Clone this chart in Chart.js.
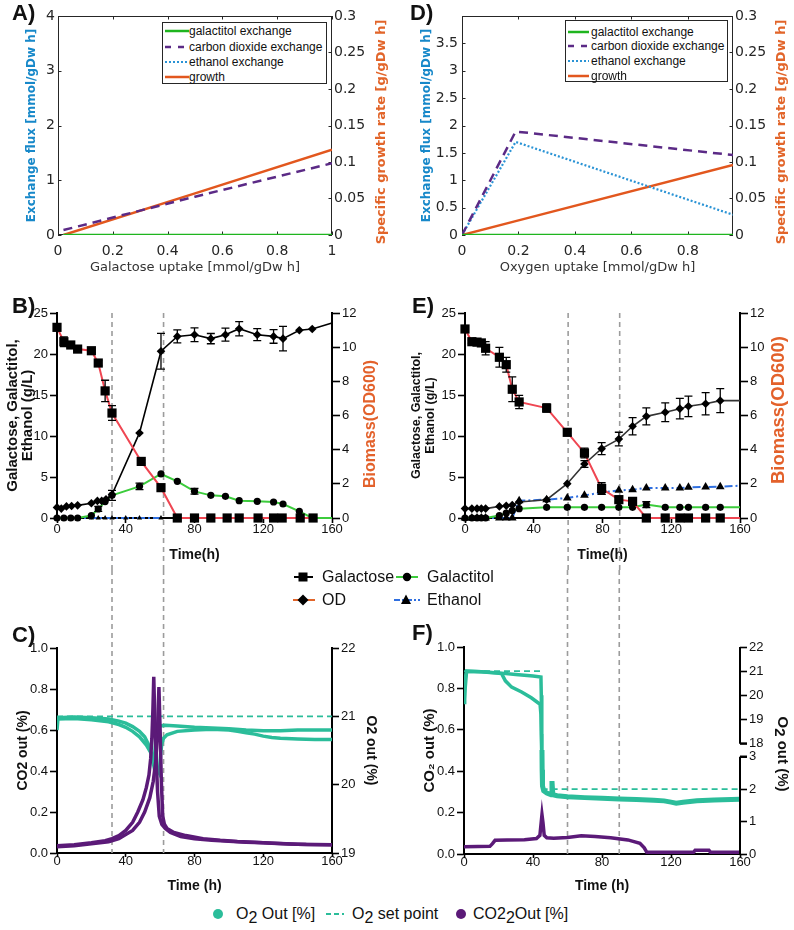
<!DOCTYPE html>
<html>
<head>
<meta charset="utf-8">
<title>Galactose fermentation figure</title>
<script src="https://cdn.jsdelivr.net/npm/chart.js@4.4.1/dist/chart.umd.min.js"></script>
<style>
html,body{margin:0;padding:0;background:#fff;}
body{position:relative;width:794px;height:930px;overflow:hidden;font-family:"Liberation Sans",Arial,sans-serif;color:#111;}
canvas{position:absolute;}
.ov{position:absolute;z-index:5;white-space:nowrap;}
.txt{position:absolute;z-index:5;white-space:nowrap;font-size:16px;line-height:20px;height:20px;color:#111;}
.plab{position:absolute;z-index:5;font:bold 22px "Liberation Sans",Arial,sans-serif;line-height:22px;color:#111;}
.rt{position:absolute;z-index:5;white-space:nowrap;font-weight:bold;line-height:1;}
.mleg{position:absolute;z-index:5;border:1px solid #262626;background:#fff;font:12px "Liberation Sans",Arial,sans-serif;color:#111;box-sizing:border-box;}
.mrow{position:absolute;left:0;height:14px;line-height:14px;white-space:nowrap;}
.mrow svg{position:absolute;top:4px;}
.mrow span{position:absolute;top:0;}
.sb{position:relative;top:4px;}
</style>
</head>
<body>
<canvas id="cA" width="395" height="285" style="left:0;top:0"></canvas>
<canvas id="cD" width="399" height="285" style="left:395px;top:0"></canvas>
<canvas id="cB" width="395" height="285" style="left:0;top:285px"></canvas>
<canvas id="cE" width="399" height="285" style="left:395px;top:285px"></canvas>
<canvas id="cC" width="395" height="330" style="left:0;top:570px"></canvas>
<canvas id="cF" width="399" height="330" style="left:395px;top:570px"></canvas>

<div class="plab" style="left:12px;top:2px">A)</div>
<div class="plab" style="left:410px;top:2px">D)</div>
<div class="plab" style="left:12px;top:295px">B)</div>
<div class="plab" style="left:412px;top:295px">E)</div>
<div class="plab" style="left:12px;top:624px">C)</div>
<div class="plab" style="left:412px;top:622px">F)</div>

<!-- right-hand axis titles reading bottom-to-top -->
<div class="rt" style="left:380px;top:132px;font-family:'DejaVu Sans',sans-serif;font-size:13px;color:#e2652a;transform:translate(-50%,-50%) rotate(-90deg)">Specific growth rate [g/gDw h]</div>
<div class="rt" style="left:780px;top:132px;font-family:'DejaVu Sans',sans-serif;font-size:13px;color:#e2652a;transform:translate(-50%,-50%) rotate(-90deg)">Specific growth rate [g/gDw h]</div>
<div class="rt" style="left:370px;top:424px;font-size:16px;color:#e3612b;transform:translate(-50%,-50%) rotate(-90deg)">Biomass(OD600)</div>
<div class="rt" style="left:778px;top:410px;font-size:18.5px;color:#e3612b;transform:translate(-50%,-50%) rotate(-90deg)">Biomass(OD600)</div>
<div class="rt" style="left:783px;top:754px;font-size:15px;color:#111;transform:translate(-50%,-50%) rotate(90deg)">O<span class="sb" style="top:3px">2</span> out (%)</div>

<!-- legend of panel A -->
<div class="mleg" style="left:162px;top:22px;width:165px;height:62px;">
  <div class="mrow" style="top:1px"><svg width="24" height="6" style="left:2px"><line x1="0" y1="3" x2="24" y2="3" stroke="#1fb51f" stroke-width="2.5"/></svg><span style="left:26px">galactitol exchange</span></div>
  <div class="mrow" style="top:16.5px"><svg width="24" height="6" style="left:2px"><line x1="0" y1="3" x2="24" y2="3" stroke="#5b2a86" stroke-width="2.5" stroke-dasharray="6 7"/></svg><span style="left:26px">carbon dioxide exchange</span></div>
  <div class="mrow" style="top:31.5px"><svg width="24" height="6" style="left:2px"><line x1="0" y1="3" x2="24" y2="3" stroke="#2a93d5" stroke-width="2.2" stroke-dasharray="2 2"/></svg><span style="left:26px">ethanol exchange</span></div>
  <div class="mrow" style="top:46.5px"><svg width="24" height="6" style="left:2px"><line x1="0" y1="3" x2="24" y2="3" stroke="#e2571e" stroke-width="2.5"/></svg><span style="left:26px">growth</span></div>
</div>
<!-- legend of panel D -->
<div class="mleg" style="left:565px;top:20px;width:163px;height:62px;">
  <div class="mrow" style="top:3.5px"><svg width="21" height="6" style="left:2px"><line x1="0" y1="3" x2="21" y2="3" stroke="#1fb51f" stroke-width="2.5"/></svg><span style="left:25px">galactitol exchange</span></div>
  <div class="mrow" style="top:18px"><svg width="21" height="6" style="left:2px"><line x1="0" y1="3" x2="21" y2="3" stroke="#5b2a86" stroke-width="2.5" stroke-dasharray="6 7"/></svg><span style="left:25px">carbon dioxide exchange</span></div>
  <div class="mrow" style="top:33px"><svg width="21" height="6" style="left:2px"><line x1="0" y1="3" x2="21" y2="3" stroke="#2a93d5" stroke-width="2.2" stroke-dasharray="2 2"/></svg><span style="left:25px">ethanol exchange</span></div>
  <div class="mrow" style="top:48px"><svg width="21" height="6" style="left:2px"><line x1="0" y1="3" x2="21" y2="3" stroke="#e2571e" stroke-width="2.5"/></svg><span style="left:25px">growth</span></div>
</div>

<!-- shared legend of B and E -->
<svg class="ov" style="left:290px;top:567px" width="28" height="20"><line x1="4" y1="10" x2="23" y2="10" stroke="#000" stroke-width="2"/><rect x="8.5" y="5.5" width="9" height="9" fill="#000"/></svg>
<div class="txt" style="left:322px;top:567px">Galactose</div>
<svg class="ov" style="left:394px;top:567px" width="26" height="20"><line x1="2" y1="10" x2="24" y2="10" stroke="#3ccc3c" stroke-width="2"/><circle cx="13" cy="10" r="4.2" fill="#000"/></svg>
<div class="txt" style="left:427px;top:567px">Galactitol</div>
<svg class="ov" style="left:290px;top:590px" width="28" height="20"><line x1="3" y1="10" x2="25" y2="10" stroke="#e2652a" stroke-width="2"/><polygon points="13,4.5 18.5,10 13,15.5 7.5,10" fill="#000"/></svg>
<div class="txt" style="left:322px;top:590px">OD</div>
<svg class="ov" style="left:393px;top:590px" width="28" height="20"><line x1="1" y1="10" x2="27" y2="10" stroke="#2f6fe0" stroke-width="2" stroke-dasharray="6 2 2 2"/><polygon points="13,4.5 18,14 8,14" fill="#000"/></svg>
<div class="txt" style="left:427px;top:590px">Ethanol</div>

<!-- shared legend of C and F -->
<svg class="ov" style="left:211px;top:904px" width="14" height="20"><circle cx="7" cy="10" r="5" fill="#2bbd9a"/></svg>
<div class="txt" style="left:236px;top:904px">O<span class="sb">2</span> Out [%]</div>
<svg class="ov" style="left:325px;top:904px" width="20" height="20"><line x1="1" y1="10" x2="19" y2="10" stroke="#2bbd9a" stroke-width="2" stroke-dasharray="5 3"/></svg>
<div class="txt" style="left:352px;top:904px">O<span class="sb">2</span> set point</div>
<svg class="ov" style="left:454px;top:904px" width="14" height="20"><circle cx="7" cy="10" r="5" fill="#5b1a78"/></svg>
<div class="txt" style="left:473px;top:904px">CO2<span class="sb">2</span>Out [%]</div>

<script>
// ===================== DATA =====================
// Panel A: simulated exchange fluxes vs galactose uptake
const aUptake      = [0.02, 0.5, 1.0];
const aGalactitol  = [0, 0, 0];
const aCO2         = [0.09, 0.70, 1.31];
const aEthanol     = [0, 0, 0];
const aGrowth      = [0.0, 0.057, 0.117];
const aXTicks  = [0, 0.2, 0.4, 0.6, 0.8, 1];
const aXLabels = ['0', '0.2', '0.4', '0.6', '0.8', '1'];
const aYTicks  = [0, 1, 2, 3, 4];
const aYLabels = ['0', '1', '2', '3', '4'];
const rateTicks  = [0, 0.05, 0.1, 0.15, 0.2, 0.25, 0.3];
const rateLabels = ['0', '0.05', '0.1', '0.15', '0.2', '0.25', '0.3'];

// Panel D: simulated exchange fluxes vs oxygen uptake
const dUptake     = [0, 0.19, 0.96];
const dGalactitol = [0, 0, 0];
const dCO2        = [0, 1.89, 1.46];
const dEthanol    = [0, 1.70, 0.37];
const dGrowth     = [0, 0.019, 0.096];
const dXTicks  = [0, 0.2, 0.4, 0.6, 0.8];
const dXLabels = ['0', '0.2', '0.4', '0.6', '0.8'];
const dYTicks  = [0, 0.5, 1, 1.5, 2, 2.5, 3, 3.5];
const dYLabels = ['0', '0.5', '1', '1.5', '2', '2.5', '3', '3.5'];

// Shared time axis / fermentation axes
const timeTicks  = [0, 40, 80, 120, 160];
const timeLabels = ['0', '40', '80', '120', '160'];
const concTicks  = [0, 5, 10, 15, 20, 25];
const concLabels = ['0', '5', '10', '15', '20', '25'];
const odTicks    = [0, 2, 4, 6, 8, 10, 12];
const odLabels   = ['0', '2', '4', '6', '8', '10', '12'];
const co2Ticks   = [0, 0.2, 0.4, 0.6, 0.8, 1.0];
const co2Labels  = ['0.0', '0.2', '0.4', '0.6', '0.8', '1.0'];
const o2TicksC   = [19, 20, 21, 22];
const o2LabelsC  = ['19', '20', '21', '22'];
const o2TicksHi  = [18, 19, 20, 21, 22];
const o2LabelsHi = ['18', '19', '20', '21', '22'];
const o2TicksLo  = [0, 1, 2, 3];
const o2LabelsLo = ['0', '1', '2', '3'];

// Panel B: aerobic batch (g/L, OD600)
const bGalTime   = [0, 4, 8, 12, 20, 24, 28, 32, 49, 60.5, 70, 80, 89.5, 99, 106, 117, 126, 131, 141.5, 149];
const bGalactose = [23.25, 21.5, 21.1, 20.6, 20.4, 18.9, 15.5, 12.8, 6.9, 3.7, 0, 0, 0, 0, 0, 0, 0, 0, 0, 0];
const bGalErr    = [0.3, 0.6, 0.3, 0.2, 0.2, 0.3, 1.3, 0.9, 0.2, 0, 0, 0, 0, 0, 0, 0, 0, 0, 0, 0];
const bODTime    = [0, 2.5, 5.5, 8.5, 12, 20, 23.5, 26, 28.5, 32, 48, 60.5, 70, 80, 89.5, 98, 106, 116.5, 126, 131.5, 141, 148.5, 160];
const bOD        = [0.62, 0.55, 0.68, 0.70, 0.74, 0.86, 1.0, 1.0, 1.1, 1.37, 4.98, 9.76, 10.63, 10.73, 10.5, 10.73, 11.08, 10.73, 10.63, 10.5, 10.99, 11.06, 11.42];
const bODErr     = [0, 0, 0, 0, 0, 0, 0, 0, 0, 0, 0, 1.05, 0.38, 0.4, 0.3, 0.38, 0.42, 0.35, 0.4, 0.72, 0, 0, 0];
const bGctTime   = [0, 4, 8, 12, 20, 24, 28, 32, 48, 60.5, 70, 80, 89.5, 98, 106, 116.5, 126, 131.5, 141, 148.5, 160];
const bGalactitol= [0, 0, 0, 0, 0.3, 1.1, 2.0, 2.76, 3.86, 5.37, 4.47, 3.25, 2.76, 2.64, 2.11, 2.03, 1.95, 1.71, 0.81, 0, 0];
const bGctErr    = [0, 0, 0, 0, 0, 0.3, 0, 0.6, 0.4, 0, 0, 0.35, 0, 0, 0, 0, 0, 0, 0, 0, 0];
const bEthTime   = [0, 4, 8, 12, 20, 24, 28, 32, 40, 48, 60.5];
const bEthanol   = [0, 0, 0, 0, 0, 0, 0, 0, 0, 0, 0];
const bPhases    = [32, 62];

// Panel E: oxygen-limited batch
const eTime       = [0, 4, 7, 9.5, 12, 20, 24, 27.5, 31.5, 47.5, 59.5, 69.5, 79.5, 89.5, 97.5, 105.5, 116.5, 125, 130, 140, 148.5, 160];
const eGalactose  = [23.05, 21.5, 21.45, 21.35, 20.7, 19.6, 18.7, 15.7, 14.15, 13.4, 10.45, 7.93, 3.6, 2.24, 2.03, 0, 0, 0, 0, 0, 0, 0];
const eGalErr     = [0.2, 0.2, 0.2, 0.2, 0.8, 1.2, 0.9, 1.5, 0.8, 0.5, 0.4, 0.6, 0.7, 0.3, 0.4, 0, 0, 0, 0, 0, 0, 0];
const eOD         = [0.55, 0.55, 0.55, 0.55, 0.55, 0.68, 0.72, 0.76, 0.94, 1.07, 2.01, 3.16, 4.06, 4.62, 5.37, 5.95, 6.19, 6.4, 6.54, 6.69, 6.87, 6.87];
const eODErr      = [0, 0, 0, 0, 0, 0, 0, 0, 0, 0, 0, 0.2, 0.35, 0.4, 0.5, 0.5, 0.55, 0.6, 0.6, 0.65, 0.7, 0];
const eGalactitol = [0, 0, 0, 0, 0, 0.3, 0.6, 0.9, 1.14, 1.3, 1.3, 1.3, 1.3, 1.3, 1.3, 1.63, 1.3, 1.3, 1.3, 1.3, 1.3, 1.3];
const eGctErr     = [0, 0, 0, 0, 0, 0, 0, 0, 0, 0, 0, 0, 0, 0, 0, 0.35, 0, 0, 0, 0, 0, 0];
const eEthanol    = [0, 0, 0, 0, 0, 0, 0, 0, 2.1, 2.24, 2.44, 2.76, 3.1, 3.37, 3.45, 3.66, 3.66, 3.66, 3.74, 3.78, 3.82, 3.94];
const ePhases     = [60, 90];

// Panel C: off-gas, aerobic (two replicates)
const cCO2TimeA = [0, 10, 20, 28, 32, 36, 40, 44, 47, 50, 52, 53.5, 54.5, 55.2, 55.8, 56.3, 57, 57.8, 58.5, 59.5, 61, 63, 66, 72, 80, 90, 100, 110, 120, 130, 140, 150, 160];
const cCO2A     = [0.035, 0.04, 0.05, 0.06, 0.07, 0.085, 0.11, 0.15, 0.2, 0.26, 0.32, 0.38, 0.46, 0.56, 0.7, 0.86, 0.62, 0.45, 0.3, 0.18, 0.14, 0.12, 0.1, 0.08, 0.07, 0.062, 0.057, 0.053, 0.05, 0.046, 0.043, 0.041, 0.04];
const cCO2TimeB = [0, 10, 20, 30, 36, 40, 44, 48, 51, 54, 56, 57.5, 58.5, 59.3, 60, 60.7, 61.5, 62.5, 64, 68, 75, 85, 95, 105, 115, 125, 135, 145, 160];
const cCO2B     = [0.03, 0.035, 0.045, 0.055, 0.07, 0.09, 0.11, 0.15, 0.2, 0.27, 0.35, 0.45, 0.6, 0.81, 0.6, 0.35, 0.18, 0.14, 0.12, 0.1, 0.085, 0.07, 0.062, 0.056, 0.052, 0.048, 0.044, 0.041, 0.04];
const cO2TimeA  = [0, 0.6, 10, 20, 30, 36, 40, 44, 48, 51, 53, 55, 56.3, 57, 57.6, 58.5, 60, 63, 70, 80, 90, 100, 110, 120, 130, 140, 150, 160];
const cO2A      = [20.8, 20.98, 20.99, 20.98, 20.96, 20.93, 20.9, 20.85, 20.78, 20.7, 20.6, 20.45, 20.28, 20.5, 20.72, 20.82, 20.86, 20.87, 20.86, 20.84, 20.83, 20.82, 20.8, 20.79, 20.79, 20.8, 20.8, 20.8];
const cO2TimeB  = [0, 10, 20, 30, 36, 40, 44, 48, 52, 55, 57, 58.5, 59.5, 60.3, 61, 62, 64, 70, 80, 90, 100, 105, 110, 115, 120, 125, 130, 140, 150, 160];
const cO2B      = [20.96, 20.97, 20.95, 20.92, 20.88, 20.84, 20.78, 20.7, 20.58, 20.45, 20.33, 20.22, 20.17, 20.45, 20.6, 20.68, 20.73, 20.78, 20.8, 20.81, 20.8, 20.78, 20.76, 20.74, 20.71, 20.69, 20.68, 20.67, 20.66, 20.66];
const cSetTime  = [0, 160];
const cSet      = [21, 21];

// Panel F: off-gas, oxygen-limited
const fCO2Time  = [0, 8, 15, 16.5, 18, 25, 35, 42, 44, 45.2, 45.8, 46.5, 48, 52, 60, 68, 76, 85, 95, 102, 104.5, 106, 120, 133, 134, 142, 143, 160];
const fCO2      = [0.035, 0.036, 0.037, 0.05, 0.066, 0.068, 0.069, 0.075, 0.09, 0.19, 0.15, 0.09, 0.078, 0.076, 0.08, 0.088, 0.085, 0.078, 0.068, 0.052, 0.03, 0.008, 0.008, 0.008, 0.018, 0.018, 0.008, 0.008];
const fO2TimeA  = [0, 0.4, 1.5, 10, 20, 30, 40, 44.6, 44.8, 45.0, 45.2];
const fO2A      = [19.7, 20.6, 21.0, 20.98, 20.93, 20.86, 20.8, 20.76, 20.0, 19.0, 17.74];
const fO2TimeB  = [0, 1.5, 10, 21.8, 24, 27.6, 33.4, 39, 44.1, 44.6, 44.8, 45.0];
const fO2B      = [19.7, 21.0, 20.98, 20.9, 20.6, 20.34, 20.14, 19.9, 19.63, 19.2, 18.4, 17.74];
const fO2TimeLo = [45.2, 45.3, 45.5, 46.2, 48, 50.5, 51, 51.5, 54, 60, 70, 80, 90, 100, 110, 116, 120, 123, 127, 135, 145, 160];
const fO2Lo     = [3.21, 2.6, 2.1, 1.95, 1.88, 1.83, 2.25, 1.83, 1.8, 1.77, 1.74, 1.72, 1.7, 1.68, 1.66, 1.64, 1.6, 1.57, 1.6, 1.64, 1.67, 1.69];
const fSetTimeHi = [0, 45];
const fSetHi     = [21, 21];
const fSetTimeLo = [45, 160];
const fSetLo     = [2, 2];

// ===================== HELPERS =====================
const FM = "'DejaVu Sans', sans-serif";
const FP = "'Liberation Sans', Arial, sans-serif";
Chart.defaults.animation = false;
Chart.defaults.color = '#111';
Chart.defaults.font.family = FP;

const xy = (xs, ys) => xs.map((x, i) => ({x: x, y: ys[i]}));
const useTicks = vals => s => { s.ticks = vals.map(v => ({value: v})); };
const fixW = w => s => { s.width = w; };
const fixH = h => s => { s.height = h; };

function matAxis(o) {
  return {
    type: 'linear', position: o.pos, min: o.min, max: o.max,
    afterBuildTicks: useTicks(o.ticks),
    afterFit: o.w !== undefined ? fixW(o.w) : fixH(o.h),
    grid: {display: false, drawTicks: false},
    border: {display: false},
    ticks: {callback: (v, i) => o.labels[i], font: {family: FM, size: 14}, color: '#262626', padding: o.pad, autoSkip: false, maxRotation: 0},
    title: o.title ? Object.assign({display: true}, o.title) : {display: false}
  };
}
function prismAxis(o) {
  const ax = {
    type: 'linear', position: o.pos, min: o.min, max: o.max,
    afterBuildTicks: useTicks(o.ticks),
    afterFit: o.w !== undefined ? fixW(o.w) : fixH(o.h),
    grid: {display: true, drawOnChartArea: false, drawTicks: true, tickLength: o.tl, tickWidth: 1.6, tickColor: '#000'},
    border: {display: o.border !== false, color: '#000', width: 2},
    ticks: {callback: (v, i) => o.labels[i], font: {family: FP, size: 13, lineHeight: 1}, color: '#111', padding: o.pad, autoSkip: false, maxRotation: 0},
    title: o.title ? Object.assign({display: true}, o.title) : {display: false}
  };
  if (o.stack) { ax.stack = o.stack; ax.stackWeight = o.sw; }
  return ax;
}

// MATLAB style box with inward ticks
const matFrame = {
  id: 'matFrame',
  beforeDatasetsDraw(chart) {
    const ctx = chart.ctx, a = chart.chartArea, s = chart.scales;
    ctx.save();
    ctx.strokeStyle = '#262626'; ctx.lineWidth = 1;
    ctx.strokeRect(a.left + 0.5, a.top + 0.5, a.right - a.left - 1, a.bottom - a.top - 1);
    const L = 3.5;
    ctx.beginPath();
    s.x.ticks.forEach(t => { const p = Math.round(s.x.getPixelForValue(t.value)) + 0.5; ctx.moveTo(p, a.bottom); ctx.lineTo(p, a.bottom - L); ctx.moveTo(p, a.top); ctx.lineTo(p, a.top + L); });
    s.y.ticks.forEach(t => { const p = Math.round(s.y.getPixelForValue(t.value)) + 0.5; ctx.moveTo(a.left, p); ctx.lineTo(a.left + L, p); });
    s.y2.ticks.forEach(t => { const p = Math.round(s.y2.getPixelForValue(t.value)) + 0.5; ctx.moveTo(a.right, p); ctx.lineTo(a.right - L, p); });
    ctx.stroke();
    ctx.restore();
  }
};

// dashed phase lines that continue across neighbouring panels
function phaseLines(times, mode) {
  return {
    id: 'phaseLines',
    beforeDatasetsDraw(chart) {
      const xs = chart.scales.x, a = chart.chartArea, ctx = chart.ctx;
      const y0 = mode === 'up' ? 0 : a.top;
      const y1 = mode === 'down' ? chart.height : a.bottom;
      ctx.save();
      ctx.strokeStyle = '#9c9c9c'; ctx.lineWidth = 1.6; ctx.setLineDash([5, 4]);
      ctx.beginPath();
      times.forEach(v => { const p = xs.getPixelForValue(v); ctx.moveTo(p, y0); ctx.lineTo(p, y1); });
      ctx.stroke();
      ctx.restore();
    }
  };
}

// error bars
const errBars = {
  id: 'errBars',
  afterDatasetsDraw(chart) {
    const ctx = chart.ctx;
    chart.data.datasets.forEach((ds, i) => {
      if (!ds.errors) return;
      const meta = chart.getDatasetMeta(i);
      const ys = chart.scales[meta.yAxisID];
      ctx.save(); ctx.strokeStyle = '#000'; ctx.lineWidth = 1.3;
      ctx.beginPath();
      meta.data.forEach((pt, j) => {
        const e = ds.errors[j]; if (!e) return;
        const v = ds.data[j].y;
        const t = ys.getPixelForValue(v + e), b = ys.getPixelForValue(v - e);
        ctx.moveTo(pt.x, t); ctx.lineTo(pt.x, b);
        ctx.moveTo(pt.x - 4, t); ctx.lineTo(pt.x + 4, t);
        ctx.moveTo(pt.x - 4, b); ctx.lineTo(pt.x + 4, b);
      });
      ctx.stroke(); ctx.restore();
    });
  }
};

// broken right axis for panel F
const brokenAxis = {
  id: 'brokenAxis',
  afterDraw(chart) {
    const ctx = chart.ctx, hi = chart.scales.yHi, lo = chart.scales.yLo, x = chart.chartArea.right;
    ctx.save(); ctx.strokeStyle = '#000'; ctx.lineWidth = 2;
    ctx.beginPath();
    ctx.moveTo(x, hi.getPixelForValue(22)); ctx.lineTo(x, hi.getPixelForValue(18));
    ctx.moveTo(x, lo.getPixelForValue(3)); ctx.lineTo(x, lo.getPixelForValue(0));
    ctx.stroke();
    ctx.lineWidth = 2.2;
    ctx.beginPath();
    ctx.moveTo(x, hi.getPixelForValue(18)); ctx.lineTo(x + 7, hi.getPixelForValue(18));
    ctx.moveTo(x, lo.getPixelForValue(3)); ctx.lineTo(x + 7, lo.getPixelForValue(3));
    ctx.stroke();
    ctx.restore();
  }
};

const baseOpts = (pad) => ({
  responsive: false, devicePixelRatio: 1, animation: false,
  layout: {padding: {top: pad, left: 0, right: 0, bottom: 0}},
  plugins: {legend: {display: false}, tooltip: {enabled: false}}
});

// ===================== PANEL A =====================
const matLine = (label, xs, ys, axis, color, dash, w) => ({
  label: label, data: xy(xs, ys), yAxisID: axis, borderColor: color, borderWidth: w || 2.5,
  borderDash: dash || [], pointRadius: 0, tension: 0, fill: false
});
new Chart(document.getElementById('cA'), {
  type: 'line',
  data: {datasets: [
    matLine('galactitol exchange', aUptake, aGalactitol, 'y', '#1fb51f'),
    matLine('carbon dioxide exchange', aUptake, aCO2, 'y', '#5b2a86', [9, 6]),
    matLine('ethanol exchange', aUptake, aEthanol, 'y', '#2a93d5', [2, 2], 2.2),
    matLine('growth', aUptake, aGrowth, 'y2', '#e2571e')
  ]},
  options: Object.assign(baseOpts(16), {
    scales: {
      x: matAxis({pos: 'bottom', min: 0, max: 1, ticks: aXTicks, labels: aXLabels, h: 50, pad: 8,
        title: {text: 'Galactose uptake [mmol/gDw h]', font: {family: FM, size: 13}, color: '#333', padding: {top: 0, bottom: 10}}}),
      y: matAxis({pos: 'left', min: 0, max: 4, ticks: aYTicks, labels: aYLabels, w: 58, pad: 3,
        title: {text: 'Exchange flux [mmol/gDw h]', font: {family: FM, size: 12, weight: 'bold'}, color: '#1788c9', padding: {top: 24.8, bottom: 0}}}),
      y2: matAxis({pos: 'right', min: 0, max: 0.3, ticks: rateTicks, labels: rateLabels, w: 63, pad: 2})
    }
  }),
  plugins: [matFrame]
});

// ===================== PANEL D =====================
new Chart(document.getElementById('cD'), {
  type: 'line',
  data: {datasets: [
    matLine('galactitol exchange', dUptake, dGalactitol, 'y', '#1fb51f'),
    matLine('carbon dioxide exchange', dUptake, dCO2, 'y', '#5b2a86', [9, 6]),
    matLine('ethanol exchange', dUptake, dEthanol, 'y', '#2a93d5', [2, 2], 2.2),
    matLine('growth', dUptake, dGrowth, 'y2', '#e2571e')
  ]},
  options: Object.assign(baseOpts(16), {
    scales: {
      x: matAxis({pos: 'bottom', min: 0, max: 0.96, ticks: dXTicks, labels: dXLabels, h: 50, pad: 8,
        title: {text: 'Oxygen uptake [mmol/gDw h]', font: {family: FM, size: 13}, color: '#333', padding: {top: 0, bottom: 10}}}),
      y: matAxis({pos: 'left', min: 0, max: 4, ticks: dYTicks, labels: dYLabels, w: 67, pad: 4,
        title: {text: 'Exchange flux [mmol/gDw h]', font: {family: FM, size: 12, weight: 'bold'}, color: '#1788c9', padding: {top: 24.8, bottom: 0}}}),
      y2: matAxis({pos: 'right', min: 0, max: 0.3, ticks: rateTicks, labels: rateLabels, w: 61, pad: 2})
    }
  }),
  plugins: [matFrame]
});

// ===================== PANELS B / E =====================
const endless = r => c => (c.raw && c.raw.x === 160) ? 0 : r;
const ferm = (label, xs, ys, errs, axis, color, style, r, dash, w) => ({
  label: label, data: xy(xs, ys), errors: errs, yAxisID: axis,
  borderColor: color, borderWidth: w || 2, borderDash: dash || [],
  pointStyle: style, pointRadius: endless(r), pointBackgroundColor: '#000', pointBorderColor: '#000', pointBorderWidth: 0,
  tension: 0, fill: false, clip: false
});
function fermScales(leftW, rightW, titleFont, titleLH, titlePad) {
  return {
    x: prismAxis({pos: 'bottom', min: 0, max: 160, ticks: timeTicks, labels: timeLabels, h: 52, tl: 5, pad: 0,
      title: {text: 'Time(h)', font: {family: FP, size: 14, weight: 'bold'}, color: '#111', padding: {top: 0, bottom: 6.6}}}),
    y: prismAxis({pos: 'left', min: 0, max: 25, ticks: concTicks, labels: concLabels, w: leftW, tl: 7, pad: 2,
      title: {text: ['Galactose, Galactitol,', 'Ethanol (g/L)'], font: {family: FP, size: titleFont, weight: 'bold', lineHeight: titleLH}, color: '#111', padding: {top: titlePad, bottom: 0}}}),
    y2: prismAxis({pos: 'right', min: 0, max: 12, ticks: odTicks, labels: odLabels, w: rightW, tl: 8, pad: 2})
  };
}
new Chart(document.getElementById('cB'), {
  type: 'line',
  data: {datasets: [
    ferm('Galactose', bGalTime, bGalactose, bGalErr, 'y', '#ef4652', 'rect', 6.5),
    ferm('OD', bODTime, bOD, bODErr, 'y2', '#000', 'rectRot', 4.3, [], 1.6),
    ferm('Galactitol', bGctTime, bGalactitol, bGctErr, 'y', '#3ccc3c', 'circle', 3.6),
    ferm('Ethanol', bEthTime, bEthanol, null, 'y', '#2f6fe0', 'triangle', 3, [8, 3, 2, 3])
  ]},
  options: Object.assign(baseOpts(28), {scales: fermScales(57, 63, 15, 1.0, 5)}),
  plugins: [phaseLines(bPhases, 'down'), errBars]
});
new Chart(document.getElementById('cE'), {
  type: 'line',
  data: {datasets: [
    ferm('Galactose', eTime, eGalactose, eGalErr, 'y', '#ef4652', 'rect', 6.5),
    ferm('OD', eTime, eOD, eODErr, 'y2', '#333', 'rectRot', 4.3, [], 1.6),
    ferm('Galactitol', eTime, eGalactitol, eGctErr, 'y', '#3ccc3c', 'circle', 3.6),
    ferm('Ethanol', eTime, eEthanol, null, 'y', '#2f6fe0', 'triangle', 5, [8, 3, 2, 3])
  ]},
  options: Object.assign(baseOpts(28), {scales: fermScales(70, 54, 12.5, 1.16, 14.2)}),
  plugins: [phaseLines(ePhases, 'down'), errBars]
});

// ===================== PANELS C / F =====================
const gas = (label, xs, ys, axis, color, w, dash) => ({
  label: label, data: xy(xs, ys), yAxisID: axis, borderColor: color, borderWidth: w,
  borderDash: dash || [], pointRadius: 0, tension: 0, fill: false
});
const TEAL = '#2bbd9a', PURP = '#5b1a78';
const gasX = {text: 'Time (h)', font: {family: FP, size: 14, weight: 'bold'}, color: '#111', padding: {top: 0, bottom: 5.6}};
new Chart(document.getElementById('cC'), {
  type: 'line',
  data: {datasets: [
    gas('CO2 Out rep 1', cCO2TimeA, cCO2A, 'y', PURP, 3.5),
    gas('CO2 Out rep 2', cCO2TimeB, cCO2B, 'y', PURP, 3.5),
    gas('O2 Out rep 1', cO2TimeA, cO2A, 'y2', TEAL, 3.5),
    gas('O2 Out rep 2', cO2TimeB, cO2B, 'y2', TEAL, 3.5),
    gas('O2 set point', cSetTime, cSet, 'y2', TEAL, 1.8, [6, 4])
  ]},
  options: Object.assign(baseOpts(78), {
    scales: {
      x: prismAxis({pos: 'bottom', min: 0, max: 160, ticks: timeTicks, labels: timeLabels, h: 47, tl: 4, pad: -2, title: gasX}),
      y: prismAxis({pos: 'left', min: 0, max: 1, ticks: co2Ticks, labels: co2Labels, w: 57, tl: 7, pad: 2,
        title: {text: 'CO2 out (%)', font: {family: FP, size: 14, weight: 'bold'}, color: '#111', padding: {top: 14.6, bottom: 0}}}),
      y2: prismAxis({pos: 'right', min: 19, max: 22, ticks: o2TicksC, labels: o2LabelsC, w: 63, tl: 7, pad: 2,
        title: {text: 'O2 out (%)', font: {family: FP, size: 14, weight: 'bold'}, color: '#111', padding: {top: 15.6, bottom: 0}}})
    }
  }),
  plugins: [phaseLines(bPhases, 'up')]
});
new Chart(document.getElementById('cF'), {
  type: 'line',
  data: {datasets: [
    gas('CO2 Out', fCO2Time, fCO2, 'y', PURP, 3.5),
    gas('O2 Out rep 1', fO2TimeA, fO2A, 'yHi', TEAL, 3.5),
    gas('O2 Out rep 2', fO2TimeB, fO2B, 'yHi', TEAL, 3.5),
    gas('O2 Out', fO2TimeLo, fO2Lo, 'yLo', TEAL, 5),
    gas('O2 set point', fSetTimeHi, fSetHi, 'yHi', TEAL, 1.8, [6, 4]),
    gas('O2 set point', fSetTimeLo, fSetLo, 'yLo', TEAL, 1.8, [6, 4])
  ]},
  options: Object.assign(baseOpts(77), {
    scales: {
      x: prismAxis({pos: 'bottom', min: 0, max: 160, ticks: timeTicks, labels: timeLabels, h: 46, tl: 4, pad: -2, title: gasX}),
      y: prismAxis({pos: 'left', min: 0, max: 1, ticks: co2Ticks, labels: co2Labels, w: 69, tl: 7, pad: 2,
        title: {text: 'CO\u2082 out (%)', font: {family: FP, size: 15, weight: 'bold'}, color: '#111', padding: {top: 26, bottom: 0}}}),
      yHi: prismAxis({pos: 'right', min: 17.74, max: 22, ticks: o2TicksHi, labels: o2LabelsHi, w: 54, tl: 7, pad: 2, border: false, stack: 'o2', sw: 103}),
      yLo: prismAxis({pos: 'right', min: 0, max: 3.21, ticks: o2TicksLo, labels: o2LabelsLo, w: 54, tl: 7, pad: 2, border: false, stack: 'o2', sw: 104})
    }
  }),
  plugins: [phaseLines(ePhases, 'up'), brokenAxis]
});
</script>
</body>
</html>
